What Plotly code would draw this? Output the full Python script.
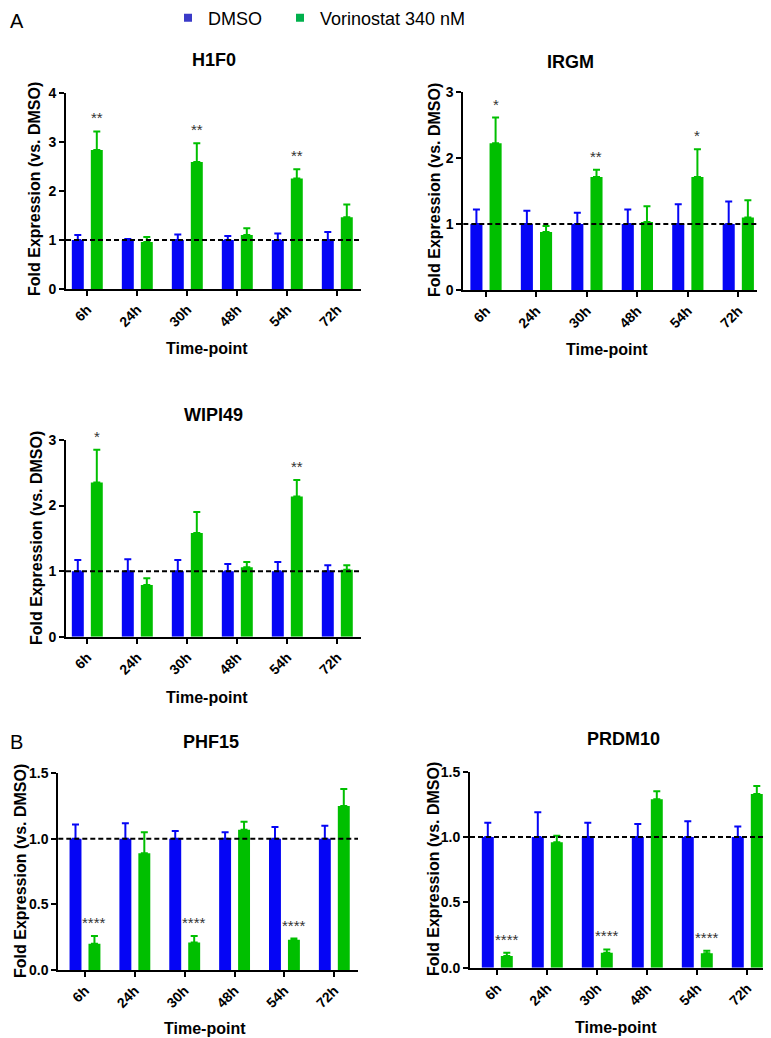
import plotly.graph_objects as go

# ---------------- data ----------------
time_points = ["6h", "24h", "30h", "48h", "54h", "72h"]

h1f0_dmso = [1, 1, 1, 1, 1, 1]
h1f0_dmso_err = [0.10, 0.02, 0.11, 0.08, 0.13, 0.16]
h1f0_vor = [2.83, 0.96, 2.59, 1.10, 2.25, 1.46]
h1f0_vor_err = [0.38, 0.10, 0.38, 0.14, 0.19, 0.26]
h1f0_sig = ["**", "", "**", "", "**", ""]

irgm_dmso = [1, 1, 1, 1, 1, 1]
irgm_dmso_err = [0.22, 0.20, 0.17, 0.22, 0.30, 0.34]
irgm_vor = [2.22, 0.88, 1.71, 1.03, 1.71, 1.10]
irgm_vor_err = [0.39, 0.09, 0.11, 0.24, 0.42, 0.26]
irgm_sig = ["*", "", "**", "", "*", ""]

wipi49_dmso = [1, 1, 1, 1, 1, 1]
wipi49_dmso_err = [0.17, 0.18, 0.17, 0.11, 0.14, 0.09]
wipi49_vor = [2.35, 0.79, 1.58, 1.06, 2.14, 1.02]
wipi49_vor_err = [0.50, 0.10, 0.32, 0.08, 0.25, 0.07]
wipi49_sig = ["*", "", "", "", "**", ""]

phf15_dmso = [1, 1, 1, 1, 1, 1]
phf15_dmso_err = [0.11, 0.12, 0.06, 0.05, 0.09, 0.10]
phf15_vor = [0.20, 0.89, 0.21, 1.07, 0.23, 1.25]
phf15_vor_err = [0.06, 0.16, 0.05, 0.06, 0.01, 0.13]
phf15_sig = ["****", "", "****", "", "****", ""]

prdm10_dmso = [1, 1, 1, 1, 1, 1]
prdm10_dmso_err = [0.11, 0.19, 0.11, 0.10, 0.12, 0.08]
prdm10_vor = [0.09, 0.96, 0.115, 1.29, 0.11, 1.33]
prdm10_vor_err = [0.025, 0.05, 0.025, 0.06, 0.02, 0.06]
prdm10_sig = ["****", "", "****", "", "****", ""]

y_ticks_a = [0, 1, 2, 3, 4]
y_ticks_b = [0, 1, 2, 3]
y_ticks_c = [0.0, 0.5, 1.0, 1.5]

# ---------------- styling / layout ----------------
PAGE_W, PAGE_H = 771, 1038
BODY = 8  # default page margin around the plot div
W, H = PAGE_W - BODY, PAGE_H - BODY
FONT = "Arial, Liberation Sans, sans-serif"
BLUE = "#0505f5"
GREEN = "#00bf00"
LEG_BLUE = "#3a3ac8"
LEG_GREEN = "#00b04c"

panels = [
    dict(title="H1F0", dmso=h1f0_dmso, dmso_err=h1f0_dmso_err, vor=h1f0_vor, vor_err=h1f0_vor_err,
         sig=h1f0_sig, yticks=y_ticks_a, fmt="d",
         xpx=(66, 361), ypx=(92.7, 289), xr=(-0.426, 5.474),
         tpos=(214, 60), xtpos=(207, 348), ytpos=(35, 189)),
    dict(title="IRGM", dmso=irgm_dmso, dmso_err=irgm_dmso_err, vor=irgm_vor, vor_err=irgm_vor_err,
         sig=irgm_sig, yticks=y_ticks_b, fmt="d",
         xpx=(463.3, 756.7), ypx=(91.7, 290.3), xr=(-0.45, 5.365),
         tpos=(570, 62), xtpos=(607, 350), ytpos=(434, 190)),
    dict(title="WIPI49", dmso=wipi49_dmso, dmso_err=wipi49_dmso_err, vor=wipi49_vor, vor_err=wipi49_vor_err,
         sig=wipi49_sig, yticks=y_ticks_b, fmt="d",
         xpx=(66, 361), ypx=(440, 636.7), xr=(-0.426, 5.474),
         tpos=(213, 415), xtpos=(207, 697), ytpos=(36, 538)),
    dict(title="PHF15", dmso=phf15_dmso, dmso_err=phf15_dmso_err, vor=phf15_vor, vor_err=phf15_vor_err,
         sig=phf15_sig, yticks=y_ticks_c, fmt=".1f",
         xpx=(58.3, 358), ypx=(773.3, 970), xr=(-0.535, 5.475),
         tpos=(210.5, 742), xtpos=(204.5, 1028), ytpos=(20, 871)),
    dict(title="PRDM10", dmso=prdm10_dmso, dmso_err=prdm10_dmso_err, vor=prdm10_vor, vor_err=prdm10_vor_err,
         sig=prdm10_sig, yticks=y_ticks_c, fmt=".1f",
         xpx=(470, 771), ypx=(771.7, 967.7), xr=(-0.546, 5.474),
         tpos=(623, 739), xtpos=(615.5, 1027), ytpos=(433, 869)),
]

fig = go.Figure()
annotations = []
shapes = []
layout_axes = {}


def px_x(v):
    """page pixel x -> paper fraction"""
    return (v - BODY) / W


def px_y(v):
    """page pixel y -> paper fraction"""
    return 1 - (v - BODY) / H


for i, p in enumerate(panels):
    n = i + 1
    xa = "x" if n == 1 else f"x{n}"
    ya = "y" if n == 1 else f"y{n}"
    zeros = [0] * len(time_points)

    fig.add_trace(go.Bar(
        x=time_points, y=p["dmso"], name="DMSO", showlegend=False,
        marker=dict(color=BLUE, line=dict(width=0)),
        error_y=dict(type="data", array=p["dmso_err"], arrayminus=zeros, symmetric=False,
                     color=BLUE, thickness=2, width=3.5),
        xaxis=xa, yaxis=ya, offsetgroup="dmso"))
    fig.add_trace(go.Bar(
        x=time_points, y=p["vor"], name="Vorinostat 340 nM", showlegend=False,
        marker=dict(color=GREEN, line=dict(width=0)),
        error_y=dict(type="data", array=p["vor_err"], arrayminus=zeros, symmetric=False,
                     color=GREEN, thickness=2, width=3.5),
        xaxis=xa, yaxis=ya, offsetgroup="vor"))

    axis_common = dict(showline=True, linecolor="black", linewidth=2, ticks="outside",
                       ticklen=5, tickwidth=2, tickcolor="black", showgrid=False, zeroline=False,
                       automargin=False,
                       tickfont=dict(family=FONT, size=14, color="black", weight="bold"))
    layout_axes["xaxis" if n == 1 else f"xaxis{n}"] = dict(
        axis_common, domain=[px_x(p["xpx"][0]), min(1, px_x(p["xpx"][1]))],
        range=list(p["xr"]), anchor=ya, type="category", tickangle=-45)
    layout_axes["yaxis" if n == 1 else f"yaxis{n}"] = dict(
        axis_common, domain=[px_y(p["ypx"][1]), px_y(p["ypx"][0])],
        range=[p["yticks"][0], p["yticks"][-1]], tickvals=p["yticks"],
        tickformat=p["fmt"], anchor=xa)

    # reference line at fold = 1
    shapes.append(dict(type="line", xref=f"{xa} domain", yref=ya, x0=0, x1=1, y0=1, y1=1,
                       line=dict(color="black", width=2, dash="5px,3px"), layer="above"))

    # significance stars above the Vorinostat bars
    for tp, v, e, s in zip(time_points, p["vor"], p["vor_err"], p["sig"]):
        if s:
            annotations.append(dict(xref=xa, yref=ya, x=tp, y=v + e, text=s, showarrow=False,
                                    xshift=9.5, yshift=3, yanchor="bottom",
                                    font=dict(family=FONT, size=15, color="#333333")))

    # panel title
    annotations.append(dict(xref="paper", yref="paper", x=px_x(p["tpos"][0]), y=px_y(p["tpos"][1]),
                            text=p["title"], showarrow=False, xanchor="center", yanchor="middle",
                            font=dict(family=FONT, size=18, color="black", weight="bold")))
    # x-axis title
    annotations.append(dict(xref="paper", yref="paper", x=px_x(p["xtpos"][0]), y=px_y(p["xtpos"][1]),
                            text="Time-point", showarrow=False, xanchor="center", yanchor="middle",
                            font=dict(family=FONT, size=16, color="black", weight="bold")))
    # y-axis title
    annotations.append(dict(xref="paper", yref="paper", x=px_x(p["ytpos"][0]), y=px_y(p["ytpos"][1]),
                            text="Fold Expression (vs. DMSO)", showarrow=False, textangle=-90,
                            xanchor="center", yanchor="middle",
                            font=dict(family=FONT, size=16, color="black", weight="bold")))

# panel letters
annotations.append(dict(xref="paper", yref="paper", x=0, y=1, text="A", showarrow=False,
                        xanchor="left", yanchor="top", font=dict(family=FONT, size=20, color="black")))
annotations.append(dict(xref="paper", yref="paper", x=0, y=px_y(742), text="B", showarrow=False,
                        xanchor="left", yanchor="middle", font=dict(family=FONT, size=20, color="black")))

# legend entries (one legend per entry for exact placement)
fig.add_trace(go.Scatter(x=[None], y=[None], mode="markers", name="DMSO", legend="legend",
                         marker=dict(symbol="square", size=8, color=LEG_BLUE), xaxis="x", yaxis="y"))
fig.add_trace(go.Scatter(x=[None], y=[None], mode="markers", name="Vorinostat 340 nM", legend="legend2",
                         marker=dict(symbol="square", size=8, color=LEG_GREEN), xaxis="x", yaxis="y"))

legend_common = dict(orientation="h", yanchor="middle", xanchor="left", y=px_y(18),
                     font=dict(family=FONT, size=18, color="black"), bgcolor="rgba(0,0,0,0)",
                     itemsizing="trace")

fig.update_layout(
    width=W, height=H, margin=dict(l=0, r=0, t=0, b=0, pad=0, autoexpand=False),
    paper_bgcolor="white", plot_bgcolor="white",
    barmode="group", bargap=0.24, bargroupgap=0.37,
    font=dict(family=FONT, color="black"),
    showlegend=True,
    legend=dict(legend_common, x=px_x(168)),
    legend2=dict(legend_common, x=px_x(280)),
    annotations=annotations, shapes=shapes,
    **layout_axes,
)

fig.write_html("out.html")
